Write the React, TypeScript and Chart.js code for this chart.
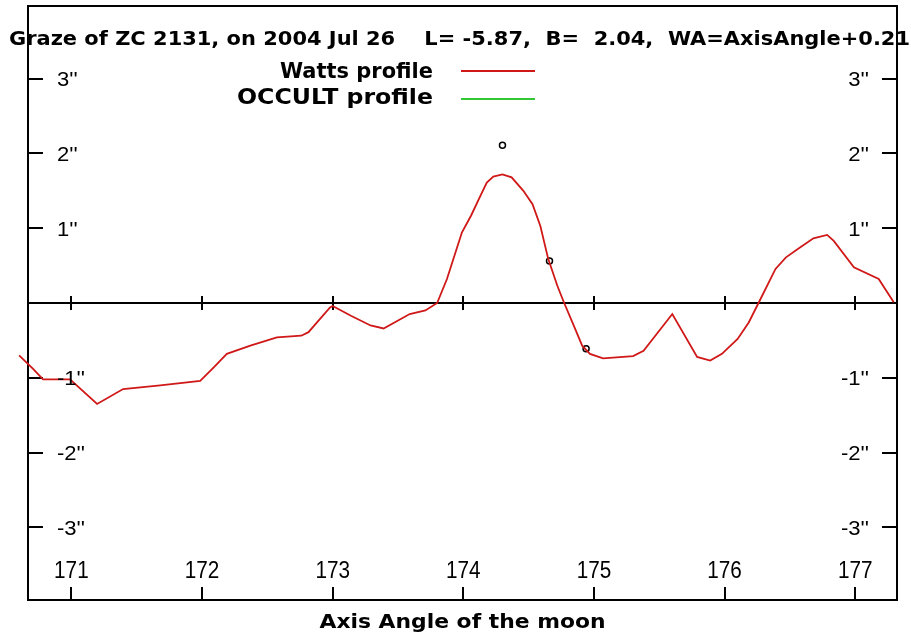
import React, { useEffect, useRef } from "react";
import { Chart, registerables } from "chart.js";

Chart.register(...registerables);

// ---- data ----
const wattsX = [
  170.6, 170.707, 170.783, 170.99, 171.197, 171.396, 171.68, 171.986, 172.09, 172.19,
  172.37, 172.573, 172.76, 172.815, 172.98, 173.0, 173.14, 173.29, 173.39, 173.59,
  173.71, 173.8, 173.875, 173.99, 174.06, 174.13, 174.18, 174.23, 174.3, 174.37,
  174.46, 174.53, 174.59, 174.65, 174.72, 174.77, 174.845, 174.91, 174.97, 175.07,
  175.3, 175.38, 175.6, 175.79, 175.89, 175.98, 176.1, 176.185, 176.26, 176.39,
  176.47, 176.58, 176.68, 176.785, 176.836, 176.99, 177.18, 177.295,
];
const wattsY = [
  -0.7, -0.88, -1.02, -1.02, -1.35, -1.15, -1.1, -1.04, -0.86, -0.68,
  -0.57, -0.46, -0.437, -0.39, -0.06, -0.04, -0.17, -0.3, -0.34, -0.147,
  -0.1, 0.0, 0.32, 0.945, 1.17, 1.43, 1.61, 1.69, 1.72, 1.68,
  1.5, 1.32, 1.03, 0.59, 0.23, 0.01, -0.3, -0.57, -0.68, -0.74,
  -0.71, -0.64, -0.147, -0.72, -0.77, -0.68, -0.48, -0.26, 0.0, 0.455,
  0.61, 0.745, 0.865, 0.91, 0.83, 0.477, 0.32, 0.01,
];
const occultX: number[] = [];
const occultY: number[] = [];
const markX = [174.3, 174.66, 174.94];
const markY = [2.11, 0.56, -0.61];

const xTicks = [171, 172, 173, 174, 175, 176, 177];
const xTickLabels = ["171", "172", "173", "174", "175", "176", "177"];
const yTicks = [-3, -2, -1, 1, 2, 3];
const yTickLabels = ["-3''", "-2''", "-1''", "1''", "2''", "3''"];

const titleText =
  "Graze of ZC 2131, on 2004 Jul 26    L= -5.87,  B=  2.04,  WA=AxisAngle+0.21";
const xAxisTitle = "Axis Angle of the moon";
const seriesNames = ["Watts profile", "OCCULT profile"];
const seriesColors = ["#d01818", "#33c833"];

const X_MIN = 170.668;
const X_MAX = 177.32;
const Y_MIN = -3.97;
const Y_MAX = 3.97;

function fitText(
  ctx: CanvasRenderingContext2D,
  text: string,
  x: number,
  y: number,
  font: string,
  align: CanvasTextAlign,
  width?: number,
  scaleX?: number
) {
  ctx.save();
  ctx.font = font;
  ctx.textAlign = align;
  ctx.textBaseline = "alphabetic";
  const w = ctx.measureText(text).width;
  const s = width ? width / w : scaleX ?? 1;
  ctx.translate(x, y);
  ctx.scale(s, 1);
  ctx.fillStyle = "#000";
  ctx.fillText(text, 0, 0);
  ctx.restore();
}

const decor = {
  id: "decor",
  beforeDatasetsDraw(chart: any) {
    const { ctx, chartArea: a, scales } = chart;
    const xs = scales.x;
    const ys = scales.y;
    const seg = (x1: number, y1: number, x2: number, y2: number) => {
      ctx.beginPath();
      ctx.moveTo(x1, y1);
      ctx.lineTo(x2, y2);
      ctx.stroke();
    };
    ctx.save();
    ctx.strokeStyle = "#000";
    const y0 = Math.round(ys.getPixelForValue(0));
    ctx.lineWidth = 2;
    seg(a.left, y0, a.right, y0);
    xTicks.forEach((v) => {
      const px = Math.round(xs.getPixelForValue(v));
      seg(px, y0 - 7, px, y0 + 7);
      seg(px, a.bottom - 13, px, a.bottom);
    });
    yTicks.forEach((v) => {
      const py = Math.round(ys.getPixelForValue(v));
      seg(a.left, py, a.left + 15, py);
      seg(a.right - 15, py, a.right, py);
    });
    ctx.strokeRect(a.left, a.top, a.right - a.left, a.bottom - a.top);
    ctx.restore();
  },
  afterDraw(chart: any) {
    const { ctx, chartArea: a, scales } = chart;
    const xs = scales.x;
    const ys = scales.y;
    // title
    fitText(ctx, titleText, 9, 45, 'bold 20px "DejaVu Sans"', "left", 901);
    // legend
    fitText(ctx, seriesNames[0], 433, 78, 'bold 21px "DejaVu Sans"', "right", 153);
    fitText(ctx, seriesNames[1], 433, 103.5, 'bold 21px "DejaVu Sans"', "right", 196);
    ctx.save();
    ctx.lineWidth = 1.8;
    ctx.strokeStyle = seriesColors[0];
    ctx.beginPath();
    ctx.moveTo(461, 71);
    ctx.lineTo(535, 71);
    ctx.stroke();
    ctx.strokeStyle = seriesColors[1];
    ctx.beginPath();
    ctx.moveTo(461, 99);
    ctx.lineTo(535, 99);
    ctx.stroke();
    ctx.restore();
    // y tick labels
    yTicks.forEach((v, i) => {
      const py = ys.getPixelForValue(v) + 7.5;
      fitText(ctx, yTickLabels[i], a.left + 29, py, '21px "Liberation Sans"', "left", undefined, 1.05);
      fitText(ctx, yTickLabels[i], a.right - 28, py, '21px "Liberation Sans"', "right", undefined, 1.05);
    });
    // x tick labels
    xTicks.forEach((v, i) => {
      const px = xs.getPixelForValue(v);
      fitText(ctx, xTickLabels[i], px, 578, '23px "Liberation Sans"', "center", undefined, 0.9);
    });
    // axis title
    fitText(ctx, xAxisTitle, (a.left + a.right) / 2, 628, 'bold 19px "DejaVu Sans"', "center", 286);
  },
};

export default function App() {
  const ref = useRef<HTMLCanvasElement | null>(null);
  useEffect(() => {
    if (!ref.current) return;
    const chart = new Chart(ref.current, {
      type: "line",
      data: {
        datasets: [
          {
            label: seriesNames[0],
            data: wattsX.map((x, i) => ({ x, y: wattsY[i] })),
            borderColor: seriesColors[0],
            borderWidth: 1.8,
            pointRadius: 0,
            tension: 0,
            fill: false,
            clip: false as any,
          },
          {
            label: seriesNames[1],
            data: occultX.map((x, i) => ({ x, y: occultY[i] })),
            borderColor: seriesColors[1],
            borderWidth: 1.5,
            pointRadius: 0,
          },
          {
            label: "points",
            data: markX.map((x, i) => ({ x, y: markY[i] })),
            showLine: false,
            pointRadius: 3,
            pointBorderColor: "#000",
            pointBackgroundColor: "#fff",
            pointBorderWidth: 1.5,
            borderColor: "#000",
          },
        ],
      },
      options: {
        responsive: false,
        animation: false,
        devicePixelRatio: 1,
        layout: { padding: { left: 28, top: 6, right: 14, bottom: 34 } },
        scales: {
          x: { type: "linear", min: X_MIN, max: X_MAX, display: false },
          y: { type: "linear", min: Y_MIN, max: Y_MAX, display: false },
        },
        plugins: {
          legend: { display: false },
          title: { display: false },
          tooltip: { enabled: false },
        },
      },
      plugins: [decor],
    });
    return () => chart.destroy();
  }, []);
  return (
    <div style={{ position: "absolute", left: 0, top: 0, width: 911, height: 634, background: "#fff" }}>
      <canvas ref={ref} width={911} height={634} style={{ display: "block" }} />
    </div>
  );
}
